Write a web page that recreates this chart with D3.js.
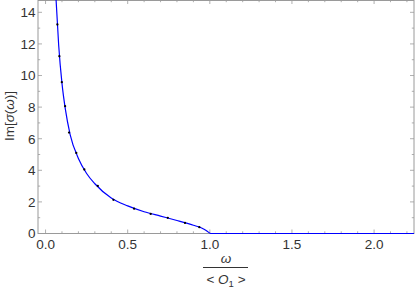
<!DOCTYPE html>
<html>
<head>
<meta charset="utf-8">
<script src="https://cdn.jsdelivr.net/npm/d3@7"></script>
<style>
  body { margin: 0; background: #fff; }
  svg { display: block; font-family: "Liberation Sans", Arial, sans-serif; }
</style>
</head>
<body>
<div id="chart"></div>
<script>
// sample points (dots)
const dotOmega = [0.072, 0.084, 0.099, 0.119, 0.143, 0.187, 0.236, 0.318, 0.413, 0.539, 0.640, 0.744, 0.849, 0.936];
const dotSigma = [13.23, 11.22, 9.58, 8.06, 6.39, 5.10, 4.05, 3.01, 2.13, 1.57, 1.24, 0.99, 0.67, 0.40];

// fitted curve
const lineOmega = [0.064, 0.08, 0.1, 0.12, 0.15, 0.2, 0.25, 0.3, 0.4, 0.5, 0.6, 0.7, 0.8, 0.9, 0.95, 0.98, 1.005, 1.1, 2.25];
const lineSigma = [14.8, 11.9, 9.5, 7.9, 6.25, 4.75, 3.8, 3.15, 2.25, 1.75, 1.38, 1.1, 0.82, 0.52, 0.35, 0.18, 0.0, 0.0, 0.0];

const xTicks = [0, 0.5, 1, 1.5, 2];
const yTicks = [0, 2, 4, 6, 8, 10, 12, 14];

const width = 415, height = 289;
const m = { left: 38, right: 414, top: 0, bottom: 233.5 };

const svg = d3.select("#chart").append("svg")
  .attr("width", width)
  .attr("height", height);

const x = d3.scaleLinear().domain([-0.046, 2.243]).range([m.left, m.right]);
const y = d3.scaleLinear().domain([0, 14.78]).range([m.bottom, m.top]);

const frameColor = "#9a9a9a";

// minor / major ticks on all four sides
const xMinor = d3.range(0, 2.25, 0.1);
const yMinor = d3.range(0, 14.8, 1);
const tickG = svg.append("g").attr("stroke", frameColor).attr("stroke-width", 0.8);

xMinor.forEach(v => {
  const major = Math.abs(v * 2 - Math.round(v * 2)) < 1e-6;
  const len = major ? 4 : 2.2;
  tickG.append("line").attr("x1", x(v)).attr("x2", x(v)).attr("y1", m.bottom).attr("y2", m.bottom - len);
  tickG.append("line").attr("x1", x(v)).attr("x2", x(v)).attr("y1", m.top).attr("y2", m.top + len);
});
yMinor.forEach(v => {
  const major = v % 2 === 0;
  const len = major ? 4 : 2.2;
  tickG.append("line").attr("y1", y(v)).attr("y2", y(v)).attr("x1", m.left).attr("x2", m.left + len);
  tickG.append("line").attr("y1", y(v)).attr("y2", y(v)).attr("x1", m.right).attr("x2", m.right - len);
});

// frame
svg.append("rect")
  .attr("x", m.left).attr("y", m.top + 0.5)
  .attr("width", m.right - m.left).attr("height", m.bottom - m.top - 0.5)
  .attr("fill", "none").attr("stroke", frameColor).attr("stroke-width", 1);

// tick labels
svg.append("g").selectAll("text").data(xTicks).enter().append("text")
  .attr("x", d => x(d))
  .attr("y", 248.5)
  .attr("text-anchor", "middle")
  .attr("font-size", 13.5)
  .attr("fill", "#333")
  .text(d => d.toFixed(1));

svg.append("g").selectAll("text").data(yTicks).enter().append("text")
  .attr("x", 35.5)
  .attr("y", d => y(d) + 4.8)
  .attr("text-anchor", "end")
  .attr("font-size", 13.5)
  .attr("fill", "#333")
  .text(d => d);

// clip for the data
svg.append("clipPath").attr("id", "clip")
  .append("rect").attr("x", m.left).attr("y", m.top).attr("width", m.right - m.left).attr("height", m.bottom - m.top + 1);

const lineData = lineOmega.map((w, i) => [w, lineSigma[i]]);
const line = d3.line()
  .x(d => x(d[0]))
  .y(d => y(d[1]))
  .curve(d3.curveMonotoneX);

const plot = svg.append("g").attr("clip-path", "url(#clip)");

plot.append("path")
  .datum(lineData)
  .attr("d", line)
  .attr("fill", "none")
  .attr("stroke", "#0000ff")
  .attr("stroke-width", 1.2);

plot.selectAll("circle").data(dotOmega.map((w, i) => [w, dotSigma[i]]))
  .enter().append("circle")
  .attr("cx", d => x(d[0]))
  .attr("cy", d => y(d[1]))
  .attr("r", 1.15)
  .attr("fill", "#000");

// axis labels
const yl = svg.append("text")
  .attr("transform", "translate(14,116) rotate(-90)")
  .attr("text-anchor", "middle")
  .attr("font-size", 13.5)
  .attr("fill", "#333");
yl.append("tspan").text("Im[");
yl.append("tspan").attr("font-style", "italic").text("σ");
yl.append("tspan").text("(");
yl.append("tspan").attr("font-style", "italic").text("ω");
yl.append("tspan").text(")]");

const xl = svg.append("g").attr("transform", "translate(226,0)");
xl.append("text")
  .attr("x", 0).attr("y", 263)
  .attr("text-anchor", "middle")
  .attr("font-size", 13.5)
  .attr("font-style", "italic")
  .attr("fill", "#333")
  .text("ω");
xl.append("line")
  .attr("x1", -23).attr("x2", 22)
  .attr("y1", 267.5).attr("y2", 267.5)
  .attr("stroke", "#333").attr("stroke-width", 1);
const den = xl.append("text")
  .attr("x", 0).attr("y", 284)
  .attr("text-anchor", "middle")
  .attr("font-size", 13.5)
  .attr("fill", "#333");
den.append("tspan").text("< ");
den.append("tspan").attr("font-style", "italic").text("O");
den.append("tspan").attr("font-size", 9.5).attr("dy", 3).text("1");
den.append("tspan").attr("dy", -3).text(" >");
</script>
</body>
</html>
